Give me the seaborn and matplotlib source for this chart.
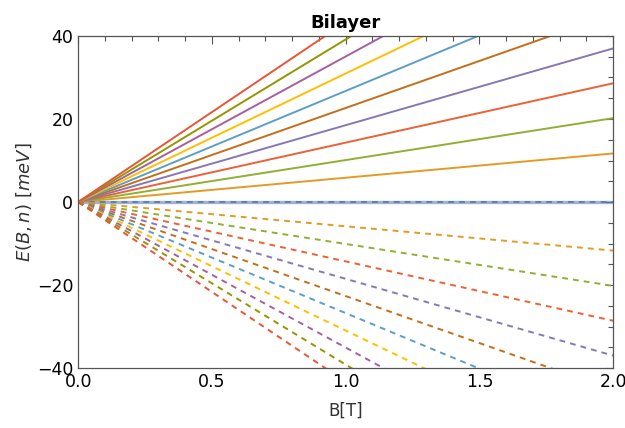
import pandas as pd
import numpy as np
import matplotlib.pyplot as plt
import seaborn as sns
from matplotlib.ticker import MultipleLocator

# Landau levels n = 1..11, energy read at B = 2 T (meV)
levels = [1, 2, 3, 4, 5, 6, 7, 8, 9, 10, 11]
e_at_2T = [0.0, 11.7, 20.2, 28.6, 37.0, 45.3, 53.5, 61.9, 70.1, 78.3, 86.6]
b_field = [0.0, 2.0]

# Mathematica default colours
colors = ['#5E81B5', '#E19C24', '#8FB032', '#EB6235', '#8778B3', '#C56E1A',
          '#5D9EC7', '#FFBF00', '#A5609D', '#929600', '#E95536']

# ----------------------------
# Build long table
# ----------------------------
rows = []
for n, e2 in zip(levels, e_at_2T):
    for b in b_field:
        rows.append({'B': b, 'E': e2 * b / 2.0, 'n': n, 'branch': '+'})
        rows.append({'B': b, 'E': -e2 * b / 2.0, 'n': n, 'branch': '-'})
df = pd.DataFrame(rows)

sns.set_style('white')
fig = plt.figure(figsize=(6.25, 4.28), dpi=100)
ax = fig.add_axes([0.125, 0.140, 0.856, 0.776])

sns.lineplot(data=df[df['branch'] == '+'], x='B', y='E', hue='n',
             palette=colors, estimator=None, linewidth=1.4, legend=False, ax=ax)
sns.lineplot(data=df[df['branch'] == '-'], x='B', y='E', hue='n',
             palette=colors, estimator=None, linewidth=1.4, legend=False, ax=ax)
for line in ax.lines[len(levels):]:
    line.set_dashes([3.0, 2.6])
# zero level looks a bit heavier in the reference
ax.lines[0].set_linewidth(2.4)
ax.lines[0].set_alpha(0.6)

ax.set_xlim(0, 2)
ax.set_ylim(-40, 40)
ax.xaxis.set_major_locator(MultipleLocator(0.5))
ax.xaxis.set_minor_locator(MultipleLocator(0.1))
ax.yaxis.set_major_locator(MultipleLocator(20))
ax.yaxis.set_minor_locator(MultipleLocator(5))
ax.tick_params(which='both', direction='in', top=True, right=True,
               labeltop=False, labelright=False, colors='#555555',
               labelcolor='black', labelsize=12.5, width=0.8)
ax.tick_params(which='major', length=6)
ax.tick_params(which='minor', length=3.5)
for s in ax.spines.values():
    s.set_color('#555555')
    s.set_linewidth(0.9)

ax.set_title('Bilayer', fontsize=13, fontweight='bold', color='black', pad=6)
ax.set_xlabel('B[T]', fontsize=12, color='#333333', labelpad=8)
ax.set_ylabel(r'$E(B,n)\ [meV]$', fontsize=13, color='#333333', labelpad=2)

fig.savefig('out.png', dpi=100)
